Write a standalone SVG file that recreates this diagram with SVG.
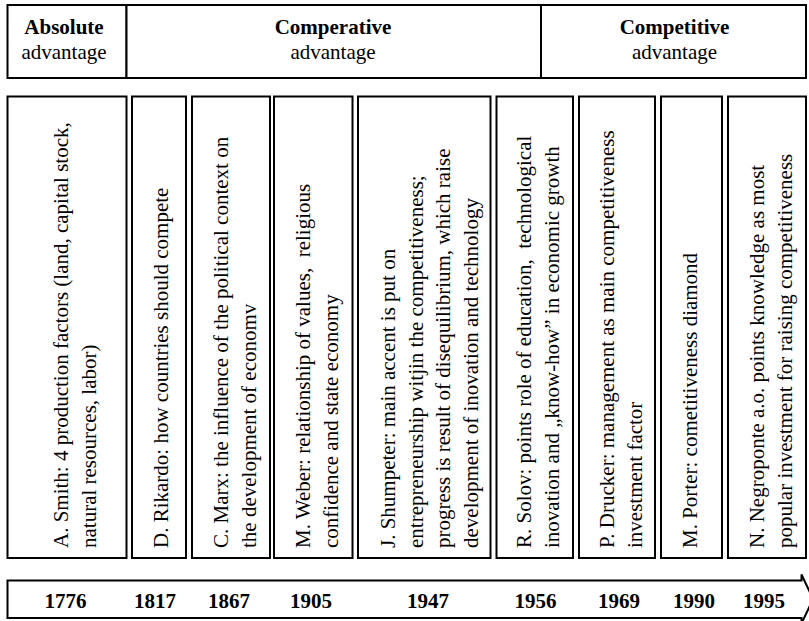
<svg xmlns="http://www.w3.org/2000/svg" width="809" height="621" viewBox="0 0 809 621">
<style>
  .box { fill: #ffffff; stroke: #000000; stroke-width: 2; }
  .line { stroke: #000000; stroke-width: 2; fill: #ffffff; }
  .t { font-family: "Liberation Serif", "Times New Roman", serif; font-size: 21px; fill: #000000; }
  .b { font-weight: bold; }
  .c { text-anchor: middle; }
</style>
<rect width="809" height="621" fill="#ffffff"/>

<g id="header-absolute">
  <rect class="box" x="7.5" y="5" width="119" height="73"/>
  <text class="t b c" x="64" y="34">Absolute</text>
  <text class="t c" x="64" y="59">advantage</text>
</g>
<g id="header-comperative">
  <rect class="box" x="126.5" y="5" width="414.5" height="73"/>
  <text class="t b c" x="333" y="34">Comperative</text>
  <text class="t c" x="333" y="59">advantage</text>
</g>
<g id="header-competitive">
  <rect class="box" x="541" y="5" width="265" height="73"/>
  <text class="t b c" x="674.5" y="34">Competitive</text>
  <text class="t c" x="674.5" y="59">advantage</text>
</g>

<g id="smith">
  <rect class="box" x="7.5" y="96.5" width="119" height="461.5"/>
  <text class="t" transform="translate(68,548) rotate(-90)"><tspan x="0" y="0">A. Smith: 4 production factors (land, capital stock,</tspan><tspan x="0" y="27.5">natural resources, labor)</tspan></text>
</g>
<g id="rikardo">
  <rect class="box" x="132" y="96.5" width="54" height="461.5"/>
  <text class="t" transform="translate(168,548) rotate(-90)">D. Rikardo: how countries should compete</text>
</g>
<g id="marx">
  <rect class="box" x="192" y="96.5" width="78" height="461.5"/>
  <text class="t" transform="translate(228,548) rotate(-90)"><tspan x="0" y="0">C. Marx: the influence of the political context on</tspan><tspan x="0" y="27.5">the development of economv</tspan></text>
</g>
<g id="weber">
  <rect class="box" x="274" y="96.5" width="78.5" height="461.5"/>
  <text class="t" transform="translate(310,548) rotate(-90)" xml:space="preserve"><tspan x="0" y="0">M. Weber: relationship of values,  religious</tspan><tspan x="0" y="27.5">confidence and state economy</tspan></text>
</g>
<g id="shumpeter">
  <rect class="box" x="358" y="96.5" width="132.5" height="461.5"/>
  <text class="t" transform="translate(395,548) rotate(-90)"><tspan x="0" y="0">J. Shumpeter: main accent is put on</tspan><tspan x="0" y="27.5">entrepreneurship witjin the competitiveness;</tspan><tspan x="0" y="55">progress is result of disequilibrium, which raise</tspan><tspan x="0" y="82.5">development of inovation and technology</tspan></text>
</g>
<g id="solov">
  <rect class="box" x="496.5" y="96.5" width="76.5" height="461.5"/>
  <text class="t" transform="translate(531,548) rotate(-90)" xml:space="preserve"><tspan x="0" y="0">R. Solov: points role of education,  technological</tspan><tspan x="0" y="27.5">inovation and „know-how” in economic growth</tspan></text>
</g>
<g id="drucker">
  <rect class="box" x="579" y="96.5" width="76" height="461.5"/>
  <text class="t" transform="translate(614,548) rotate(-90)"><tspan x="0" y="0">P. Drucker: management as main competitiveness</tspan><tspan x="0" y="27.5">investment factor</tspan></text>
</g>
<g id="porter">
  <rect class="box" x="661" y="96.5" width="61" height="461.5"/>
  <text class="t" transform="translate(697,548) rotate(-90)">M. Porter: cometitiveness diamond</text>
</g>
<g id="negroponte">
  <rect class="box" x="728" y="96.5" width="78" height="461.5"/>
  <text class="t" transform="translate(764,548) rotate(-90)"><tspan x="0" y="0">N. Negroponte a.o. points knowledge as most</tspan><tspan x="0" y="27.5">popular investment for raising competitiveness</tspan></text>
</g>

<g id="connectors">
  <g id="timeline">
    <path class="line" d="M7.5,580.5 H801.5 V574.5 L813,599 L801.5,623.5 V618 H7.5 Z"/>
    <text class="t b c" x="65.5" y="608">1776</text>
    <text class="t b c" x="155" y="608">1817</text>
    <text class="t b c" x="229" y="608">1867</text>
    <text class="t b c" x="311" y="608">1905</text>
    <text class="t b c" x="428" y="608">1947</text>
    <text class="t b c" x="535.5" y="608">1956</text>
    <text class="t b c" x="619" y="608">1969</text>
    <text class="t b c" x="694" y="608">1990</text>
    <text class="t b c" x="764" y="608">1995</text>
  </g>
</g>
</svg>
